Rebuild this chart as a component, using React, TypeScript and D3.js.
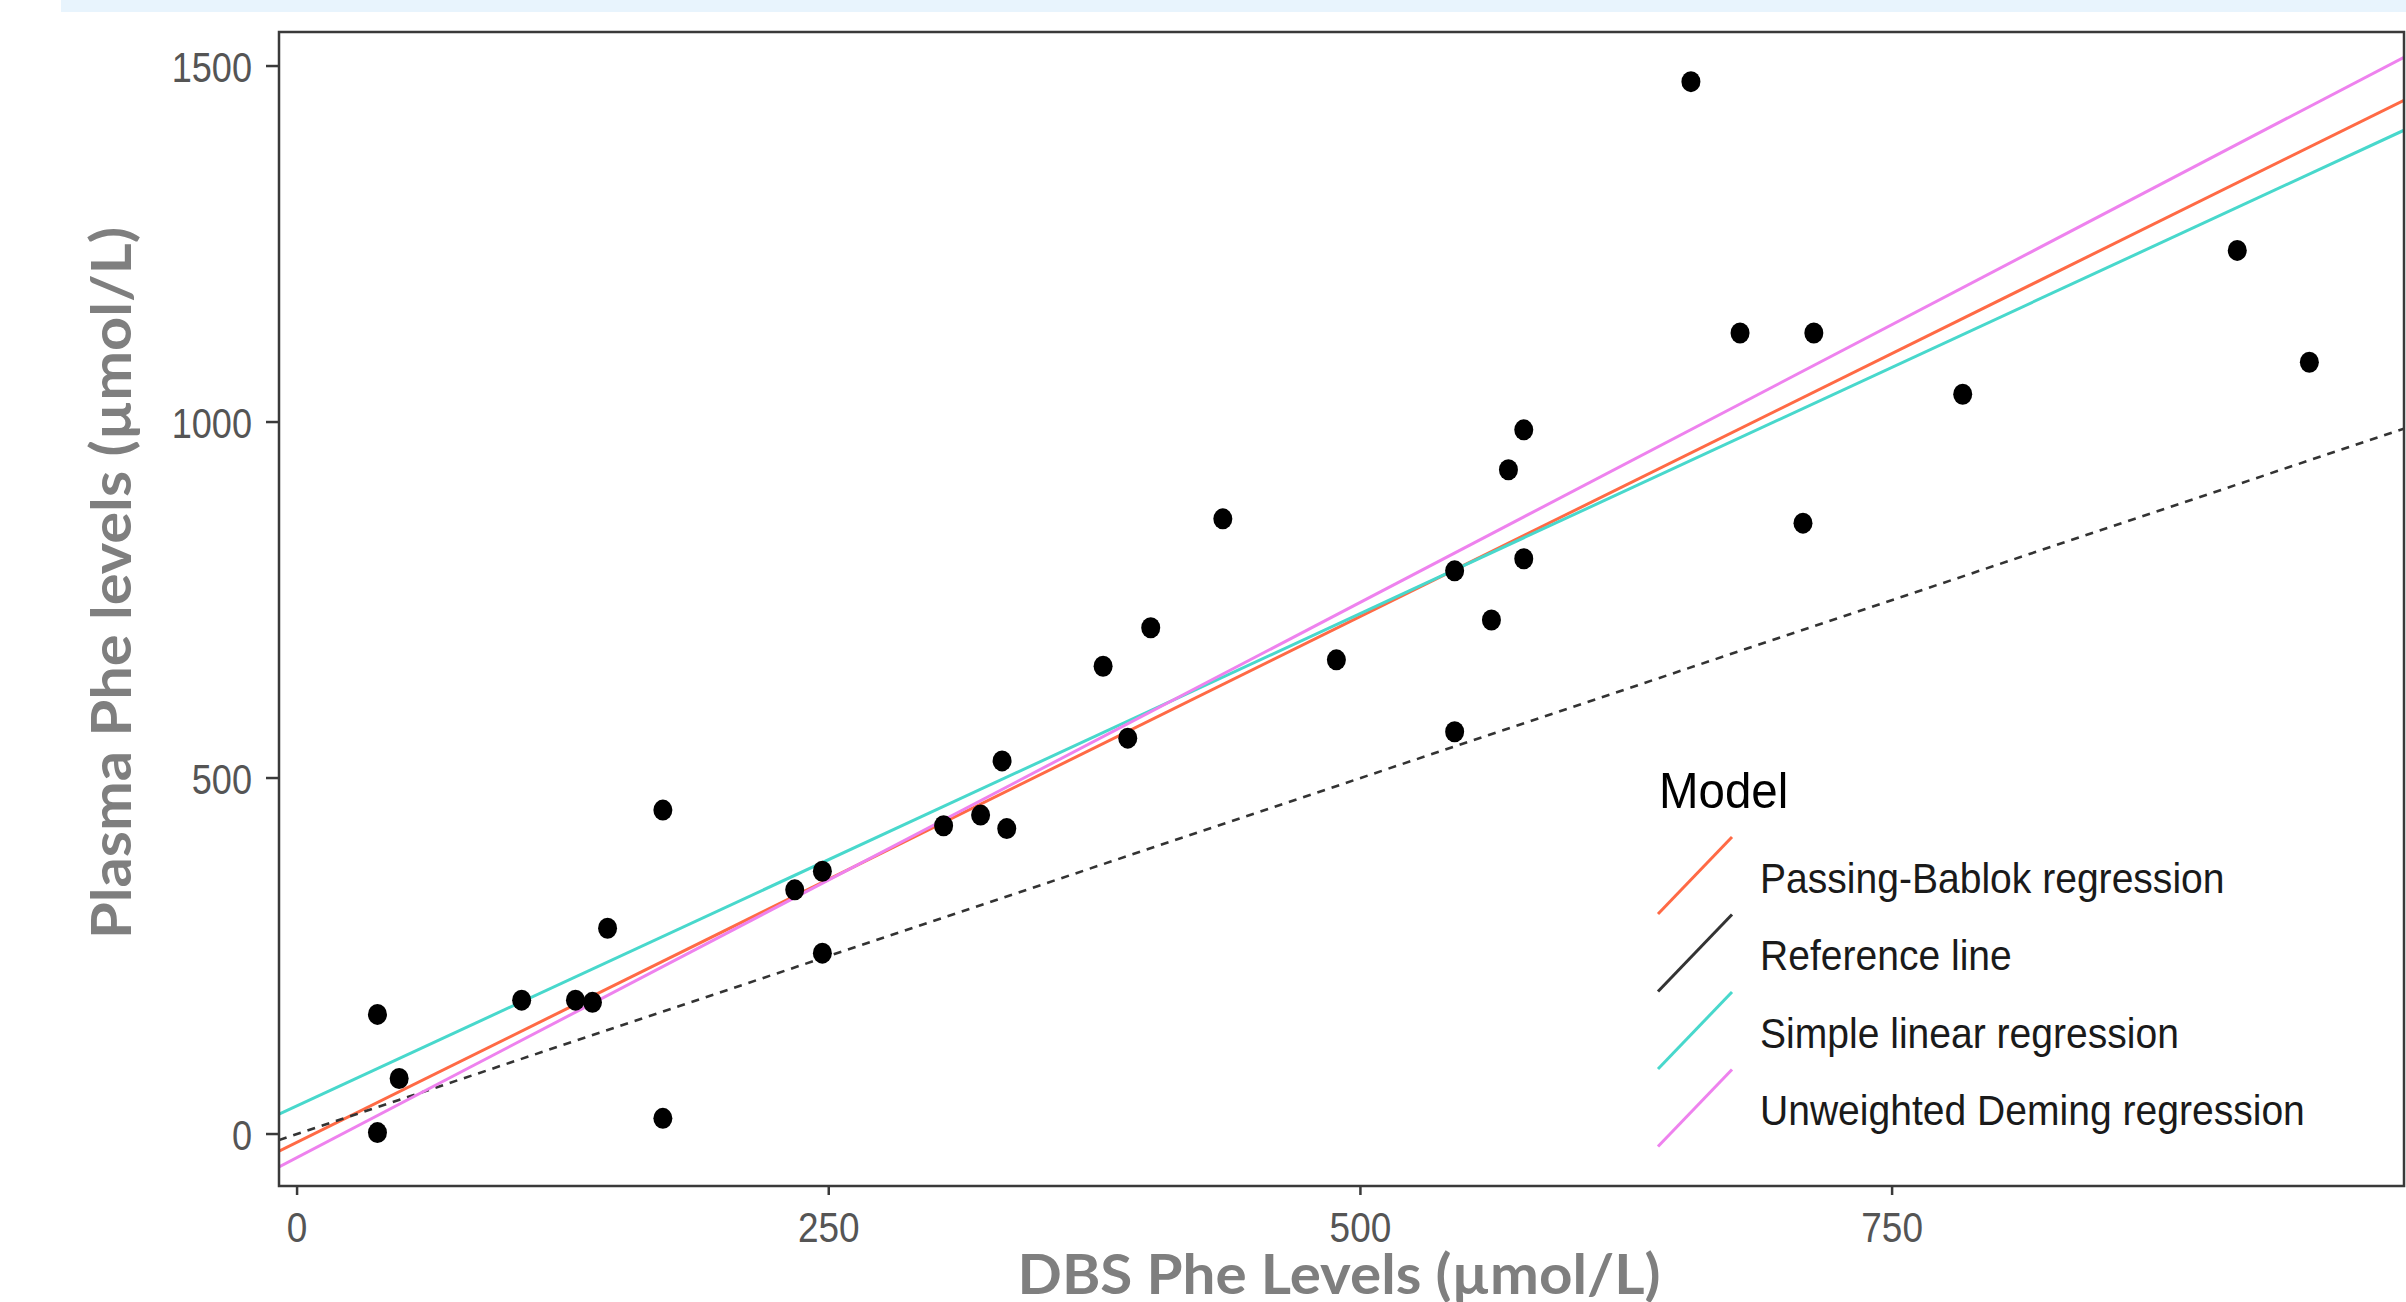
import React from 'react';
import * as d3 from 'd3';

// DBS vs plasma Phe, with the four fitted lines (abline style, clipped to panel)

const dbsValues = [37.8, 37.8, 48, 105.6, 130.9, 138.9, 146, 172, 172, 234, 247, 247, 304, 321.4, 331.5, 333.7,
  379, 390.6, 401.4, 435.3, 488.7, 544.3, 544.3, 561.6, 569.6, 576.8, 576.8, 655.4, 678.5, 708.1, 713.2, 783.2,
  912.3, 946.2];
const plasmaValues = [168, 2, 78, 188, 188, 185, 289, 455, 22, 343, 369, 254, 433, 448, 524, 429,
  657, 556, 711, 864, 666, 791, 565, 722, 933, 989, 808, 1478, 1125, 858, 1125, 1039,
  1241, 1084];

const modelNames = ['Passing-Bablok regression', 'Reference line', 'Simple linear regression', 'Unweighted Deming regression'];
const modelIntercepts = [-11.4, 0, 39.7, -33.1];
const modelSlopes = [1.477, 1, 1.383, 1.56];
const modelColors = ['#FF6A45', '#333333', '#48D8CC', '#EE82EE'];

const xTicks = [0, 250, 500, 750];
const yTicks = [0, 500, 1000, 1500];
const xDomain = [-8.5, 990.7];
const yDomain = [-73, 1547.8];

const W = 2406, H = 1302;
const panel = { left: 279, right: 2404, top: 32, bottom: 1186 };

export default function App() {
  const x = d3.scaleLinear().domain(xDomain).range([panel.left, panel.right]);
  const y = d3.scaleLinear().domain(yDomain).range([panel.bottom, panel.top]);

  const points = dbsValues.map((v, i) => ({ dx: v, py: plasmaValues[i] }));

  const ablines = modelNames.map((name, i) => {
    const pts: [number, number][] = xDomain.map(v => [x(v), y(modelIntercepts[i] + modelSlopes[i] * v)]);
    return { name, d: d3.line()(pts), color: modelColors[i], dashed: i === 1 };
  });

  const keyW = 74, keyH = 77, keyX = 1658, keyTop = 837;
  const textStyle = { fontFamily: '"Liberation Sans", Arial, sans-serif' };

  return (
    <svg width={W} height={H} style={{ position: 'absolute', left: 0, top: 0, display: 'block', background: '#fff' }}>
      <rect x={61} y={0} width={W - 61} height={12} fill="#E8F4FD" />
      <defs>
        <clipPath id="panelClip">
          <rect x={panel.left} y={panel.top} width={panel.right - panel.left} height={panel.bottom - panel.top} />
        </clipPath>
      </defs>

      <g clipPath="url(#panelClip)">
        {ablines.map(l => (
          <path key={l.name} d={l.d || ''} fill="none" stroke={l.color} strokeWidth={l.dashed ? 2.6 : 3}
            strokeDasharray={l.dashed ? '8,7' : undefined} />
        ))}
        {points.map((p, i) => (
          <ellipse key={i} cx={x(p.dx)} cy={y(p.py)} rx={9.5} ry={10.5} fill="#000" />
        ))}
      </g>

      <rect x={panel.left} y={panel.top} width={panel.right - panel.left} height={panel.bottom - panel.top}
        fill="none" stroke="#3a3a3a" strokeWidth={2.5} />

      {/* y axis */}
      {yTicks.map(t => (
        <g key={t}>
          <line x1={panel.left - 13} x2={panel.left} y1={y(t)} y2={y(t)} stroke="#3a3a3a" strokeWidth={2.5} />
          <text transform={`translate(252,${y(t) + 16}) scale(0.86,1)`} textAnchor="end" fontSize={42}
            fill="#555555" style={textStyle}>{t}</text>
        </g>
      ))}
      {/* x axis */}
      {xTicks.map(t => (
        <g key={t}>
          <line x1={x(t)} x2={x(t)} y1={panel.bottom} y2={panel.bottom + 9} stroke="#3a3a3a" strokeWidth={2.5} />
          <text transform={`translate(${x(t)},1242) scale(0.86,1)`} textAnchor="middle" fontSize={43}
            fill="#555555" style={textStyle}>{t}</text>
        </g>
      ))}

      <text transform="translate(131,583) rotate(-90)" textAnchor="middle" fontSize={56} fontWeight={700}
        fill="#7F7F7F" textLength={712} lengthAdjust="spacingAndGlyphs"
        style={{ fontFamily: 'Lato, "Open Sans", sans-serif' }}>Plasma Phe levels (µmol/L)</text>
      <text x={1339} y={1294} textAnchor="middle" fontSize={56} fontWeight={700}
        fill="#7F7F7F" textLength={643} lengthAdjust="spacingAndGlyphs"
        style={{ fontFamily: 'Lato, "Open Sans", sans-serif' }}>DBS Phe Levels (µmol/L)</text>

      {/* legend */}
      <text transform="translate(1659,808) scale(0.95,1)" fontSize={50} fill="#000" style={textStyle}>Model</text>
      {modelNames.map((name, i) => {
        const top = keyTop + i * 77.5;
        return (
          <g key={name}>
            <line x1={keyX} y1={top + keyH} x2={keyX + keyW} y2={top} stroke={modelColors[i]} strokeWidth={3} />
            <text transform={`translate(1760,${top + keyH / 2 + 17}) scale(0.93,1)`} fontSize={42} fill="#1a1a1a"
              style={textStyle}>{name}</text>
          </g>
        );
      })}
    </svg>
  );
}
